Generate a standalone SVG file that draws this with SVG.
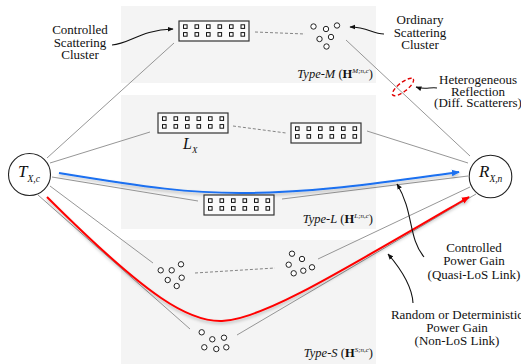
<svg xmlns="http://www.w3.org/2000/svg" xmlns:xlink="http://www.w3.org/1999/xlink" width="521" height="364" viewBox="0 0 521 364" font-family="'Liberation Serif', serif">
<style>
text{font-family:'Liberation Serif',serif;fill:#111}
.t{font-size:13px}
.typ{font-size:12.5px}
.panel{fill:#f4f4f4}
.ln{stroke:#8a8a8a;stroke-width:0.9;fill:none}
.dash{stroke:#777;stroke-width:0.9;fill:none;stroke-dasharray:3 2}
.sc{fill:#fff;stroke:#222;stroke-width:1}
.ann{stroke:#111;stroke-width:1.1;fill:none;marker-end:url(#ah)}
.node{fill:#fff;stroke:#222;stroke-width:1.1}
</style>
<defs>
<marker id="ah" viewBox="0 0 10 10" refX="9" refY="5" markerWidth="6" markerHeight="6" orient="auto" markerUnits="userSpaceOnUse"><path d="M0,1 L10,5 L0,9 z" fill="#111"/></marker>
<marker id="ahb" viewBox="0 0 10 10" refX="9" refY="5" markerWidth="8" markerHeight="8" orient="auto" markerUnits="userSpaceOnUse"><path d="M0,1 L10,5 L0,9 z" fill="#1a6ff0"/></marker>
<marker id="ahr" viewBox="0 0 10 10" refX="9" refY="5" markerWidth="8" markerHeight="8" orient="auto" markerUnits="userSpaceOnUse"><path d="M0,1 L10,5 L0,9 z" fill="#ff0000"/></marker>
<filter id="sh" x="-10%" y="-10%" width="120%" height="130%"><feDropShadow dx="0" dy="2" stdDeviation="1.5" flood-color="#000" flood-opacity="0.25"/></filter>
<g id="arr">
<rect x="0" y="0" width="70" height="20" fill="#fafafa" stroke="#333" stroke-width="1.2"/>
<g fill="#fff" stroke="#111" stroke-width="1">
<rect x="4.5" y="3.8" width="3.6" height="3.6"/><rect x="16" y="3.8" width="3.6" height="3.6"/><rect x="27.5" y="3.8" width="3.6" height="3.6"/><rect x="39" y="3.8" width="3.6" height="3.6"/><rect x="50.5" y="3.8" width="3.6" height="3.6"/><rect x="62" y="3.8" width="3.6" height="3.6"/>
<rect x="4.5" y="11.6" width="3.6" height="3.6"/><rect x="16" y="11.6" width="3.6" height="3.6"/><rect x="27.5" y="11.6" width="3.6" height="3.6"/><rect x="39" y="11.6" width="3.6" height="3.6"/><rect x="50.5" y="11.6" width="3.6" height="3.6"/><rect x="62" y="11.6" width="3.6" height="3.6"/>
</g>
</g>
</defs>
<rect width="521" height="364" fill="#fff"/>
<g id="panels">
<rect class="panel" x="121" y="6" width="255" height="77"/>
<rect class="panel" x="121" y="95" width="255" height="134"/>
<rect class="panel" x="121" y="240" width="255" height="124"/>
</g>
<g id="connectors">
<line class="ln" x1="47" y1="158" x2="174" y2="43"/>
<line class="ln" x1="50" y1="163" x2="150" y2="132"/>
<line class="ln" x1="52" y1="177" x2="198" y2="201"/>
<line class="ln" x1="50" y1="186" x2="153" y2="263"/>
<line class="ln" x1="38" y1="195" x2="190" y2="329"/>
<line class="ln" x1="346" y1="40" x2="470" y2="156"/>
<line class="ln" x1="367" y1="131" x2="468" y2="163"/>
<line class="ln" x1="282" y1="199" x2="468" y2="176"/>
<line class="ln" x1="318" y1="259" x2="470" y2="187"/>
<line class="ln" x1="237" y1="335" x2="476" y2="194"/>
<line class="dash" x1="255" y1="32" x2="305" y2="34"/>
<line class="dash" x1="233" y1="126" x2="286" y2="133"/>
<line class="dash" x1="195" y1="273" x2="275" y2="268"/>
<path d="M59,173 C150,188 190,193 240,193 C320,193 400,180 459,172" fill="none" stroke="#1a6ff0" stroke-width="2" filter="url(#sh)" marker-end="url(#ahb)"/>
<path d="M47,197 C150,300 190,322 222,321 C260,320 330,278 469,197" fill="none" stroke="#ff0000" stroke-width="2" filter="url(#sh)" marker-end="url(#ahr)"/>
<ellipse cx="403" cy="87" rx="13" ry="4.5" transform="rotate(-38 403 87)" fill="none" stroke="#e00000" stroke-width="1.4" stroke-dasharray="4 2.5"/>
<path class="ann" d="M112,45 C130,44 140,30 173,29"/>
<path class="ann" d="M384,34 C372,34 368,27 350,27"/>
<path class="ann" d="M437,88 C430,87 425,90 416,87"/>
<path class="ann" d="M424,257 C408,238 414,212 397,184"/>
<path class="ann" d="M413,303 C412,285 400,268 388,254"/>
</g>
<g id="arrM"><use xlink:href="#arr" x="179" y="21"/></g>
<g id="arrL1"><use xlink:href="#arr" x="158" y="113"/></g>
<g id="arrL2"><use xlink:href="#arr" x="291" y="123"/></g>
<g id="arrL3"><use xlink:href="#arr" x="204" y="195"/></g>
<g id="clM">
<circle class="sc" cx="313.5" cy="26.5" r="2.7"/><circle class="sc" cx="326" cy="29" r="2.7"/><circle class="sc" cx="337" cy="25.5" r="2.7"/><circle class="sc" cx="319.5" cy="39" r="2.7"/><circle class="sc" cx="331" cy="37" r="2.7"/><circle class="sc" cx="326.5" cy="46.5" r="2.7"/>
</g>
<g id="clS1">
<circle class="sc" cx="160.7" cy="270.3" r="2.7"/><circle class="sc" cx="171.7" cy="270.3" r="2.7"/><circle class="sc" cx="181" cy="264.3" r="2.7"/><circle class="sc" cx="167.7" cy="280" r="2.7"/><circle class="sc" cx="181.7" cy="277.7" r="2.7"/><circle class="sc" cx="176.7" cy="286" r="2.7"/>
</g>
<g id="clS2">
<circle class="sc" cx="292" cy="253.7" r="2.7"/><circle class="sc" cx="302" cy="259" r="2.7"/><circle class="sc" cx="288.7" cy="264.7" r="2.7"/><circle class="sc" cx="312" cy="267.3" r="2.7"/><circle class="sc" cx="303.3" cy="270.7" r="2.7"/><circle class="sc" cx="293.7" cy="273.3" r="2.7"/>
</g>
<g id="clS3">
<circle class="sc" cx="201.7" cy="332.3" r="2.7"/><circle class="sc" cx="212.3" cy="339.3" r="2.7"/><circle class="sc" cx="224" cy="337.7" r="2.7"/><circle class="sc" cx="204.3" cy="347.3" r="2.7"/><circle class="sc" cx="216.3" cy="349" r="2.7"/><circle class="sc" cx="226.3" cy="347.3" r="2.7"/>
</g>
<g id="tx">
<circle class="node" cx="29.5" cy="174.5" r="21"/>
<text x="18" y="177" font-size="17" font-style="italic">T<tspan font-size="9.5" dy="5">X,c</tspan></text>
</g>
<g id="rx">
<circle class="node" cx="490.5" cy="176.5" r="21.3"/>
<text x="479" y="177" font-size="17" font-style="italic">R<tspan font-size="9.5" dy="5">X,n</tspan></text>
</g>
<g id="labels">
<text x="183" y="149" font-size="16" font-style="italic">L<tspan font-size="9" dy="4">X</tspan></text>
<text class="t" text-anchor="middle"><tspan x="80" y="34">Controlled</tspan><tspan x="80" y="46.5">Scattering</tspan><tspan x="80" y="59">Cluster</tspan></text>
<text class="t" text-anchor="middle"><tspan x="420" y="24">Ordinary</tspan><tspan x="420" y="36.5">Scattering</tspan><tspan x="420" y="49">Cluster</tspan></text>
<text class="t" text-anchor="middle"><tspan x="478" y="84">Heterogeneous</tspan><tspan x="478" y="95.5">Reflection</tspan><tspan x="478" y="107">(Diff. Scatterers)</tspan></text>
<text class="t" text-anchor="middle"><tspan x="474" y="252">Controlled</tspan><tspan x="474" y="265">Power Gain</tspan><tspan x="474" y="279">(Quasi-LoS Link)</tspan></text>
<text class="t" text-anchor="middle"><tspan x="457" y="319">Random or Deterministic</tspan><tspan x="457" y="332">Power Gain</tspan><tspan x="457" y="345">(Non-LoS Link)</tspan></text>
<text class="typ" x="373" y="78" text-anchor="end"><tspan font-style="italic">Type-M</tspan> (<tspan font-weight="bold">H</tspan><tspan font-style="italic" font-size="7" dy="-5">M;n,c</tspan><tspan dy="5">)</tspan></text>
<text class="typ" x="373" y="223" text-anchor="end"><tspan font-style="italic">Type-L</tspan> (<tspan font-weight="bold">H</tspan><tspan font-style="italic" font-size="7" dy="-5">L;n,c</tspan><tspan dy="5">)</tspan></text>
<text class="typ" x="373" y="357" text-anchor="end"><tspan font-style="italic">Type-S</tspan> (<tspan font-weight="bold">H</tspan><tspan font-style="italic" font-size="7" dy="-5">S;n,c</tspan><tspan dy="5">)</tspan></text>
</g>
</svg>
